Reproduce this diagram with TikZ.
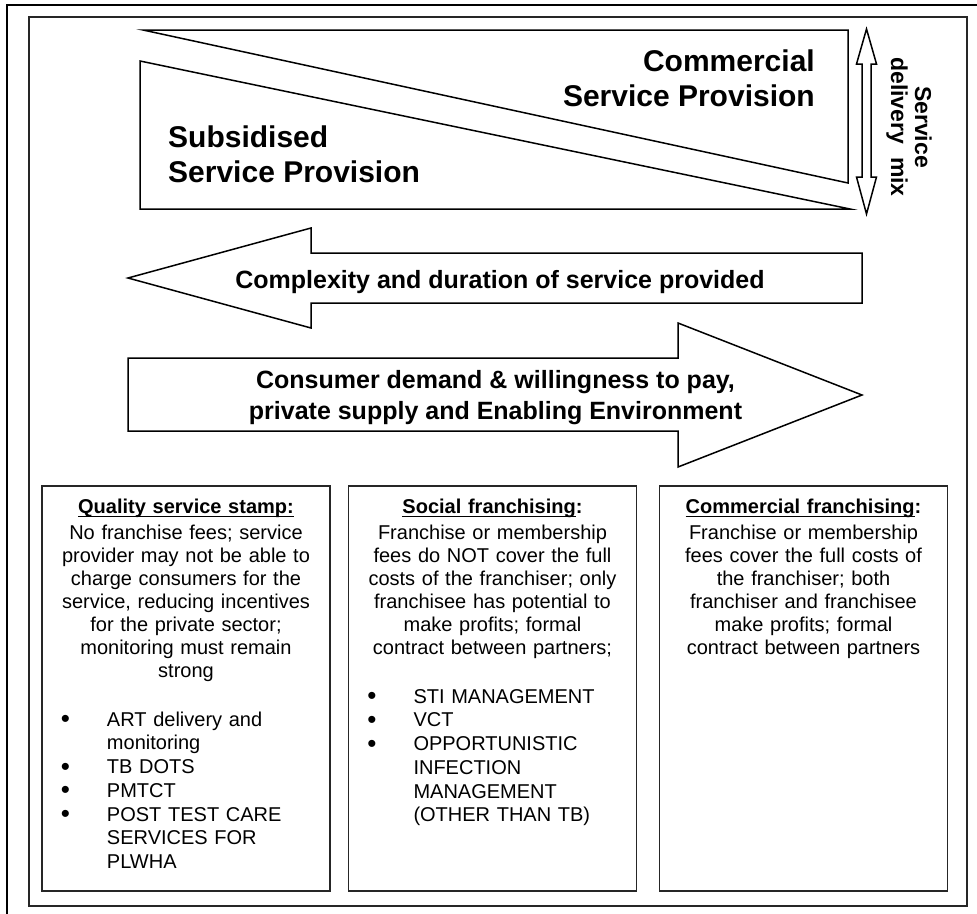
\documentclass[tikz,border=0pt]{standalone}
\usepackage{fontspec}
\setmainfont{Liberation Sans}
% heavy underline for the panel headings
\newsavebox\headbox
\newcommand\headrule[1]{\sbox\headbox{#1}\leavevmode
  \rlap{\rule[-3.6pt]{\wd\headbox}{1.6pt}}\usebox\headbox}
\newcommand\listdot{\raisebox{-1.5pt}{\fontsize{26}{26}\selectfont\textbullet}}
\newenvironment{servicelist}{%
  \par\vspace{24.5pt}\raggedright\fontsize{20}{23.8}\selectfont
  \begin{list}{\listdot}{%
    \setlength\leftmargin{62pt}\setlength\labelwidth{20pt}%
    \setlength\labelsep{37pt}\setlength\itemsep{0pt}%
    \setlength\parsep{0pt}\setlength\topsep{0pt}\setlength\partopsep{0pt}}}%
  {\end{list}}
\begin{document}
\begin{tikzpicture}[x=1pt,y=-1pt,
  frameline/.style={line width=1.8pt, draw=black},
  shapeline/.style={line width=1.5pt, draw=black, line join=miter},
  biglabel/.style={inner sep=0pt, font=\bfseries\fontsize{30}{35}\selectfont},
  arrowlabel/.style={inner sep=0pt, font=\bfseries\fontsize{25}{31}\selectfont},
  panel/.style={draw=black!85, line width=1.6pt, minimum width=288pt,
    minimum height=405pt, inner sep=0pt},
  paneltext/.style={inner sep=0pt, text width=282pt, anchor=north,
    font=\fontsize{20}{23}\selectfont},
]
\useasboundingbox (0,0) rectangle (977,913);
\clip (0,0) rectangle (977,913);

% page border and inner frame
\draw[frameline] (7,5) rectangle (1010,1000);
\draw[frameline, draw=black!85] (29,17) rectangle (967,906);

% service provision wedges
\draw[shapeline] (143,30) -- (848,30) -- (848,183) -- cycle;
\draw[shapeline] (140,61) -- (140,209) -- (850,209) -- cycle;
\node[biglabel, anchor=north east, align=right] (commercial) at (815,50)
  {Commercial\\Service Provision};
\node[biglabel, anchor=north west, align=left] (subsidised) at (168,126)
  {Subsidised\\Service Provision};

% service delivery mix double arrow
\draw[shapeline] (866.5,29) -- (876.5,64) -- (871,64) -- (871,177) -- (876.5,177)
  -- (866.5,214) -- (856.5,177) -- (862,177) -- (862,64) -- (856.5,64) -- cycle;
\node[rotate=-90, inner sep=0pt, align=center,
  font=\bfseries\fontsize{23}{24}\selectfont] (mix) at (909,127)
  {Service\\delivery\ \ mix};

% block arrows
\draw[shapeline] (128,278) -- (311,228) -- (311,253) -- (862,253) -- (862,303)
  -- (311,303) -- (311,328) -- cycle;
\node[arrowlabel, anchor=base] (complexity) at (500,288)
  {Complexity and duration of service provided};

\draw[shapeline] (128,358) -- (678,358) -- (678,323) -- (862,395) -- (678,467)
  -- (678,431) -- (128,431) -- cycle;
\node[arrowlabel, anchor=north, align=center] (demand) at (495.5,370)
  {Consumer demand \& willingness to pay,\\private supply and Enabling Environment};

% franchising panels
\node[panel] (stamp) at (186,688.5) {};
\node[panel] (social) at (492.5,688.5) {};
\node[panel] (commfr) at (803.5,688.5) {};

\node[paneltext] (stamptext) at (186,499) {\centering
  {\bfseries\headrule{Quality service stamp:}}\\[3pt]
  No franchise fees; service\\
  provider may not be able to\\
  charge consumers for the\\
  service, reducing incentives\\
  for the private sector;\\
  monitoring must remain\\
  strong
  \begin{servicelist}
  \item ART delivery and\\ monitoring
  \item TB DOTS
  \item PMTCT
  \item POST TEST CARE\\ SERVICES FOR\\ PLWHA
  \end{servicelist}};

\node[paneltext] (socialtext) at (492.5,499) {\centering
  {\bfseries\headrule{Social franchising}:}\\[3pt]
  Franchise or membership\\
  fees do NOT cover the full\\
  costs of the franchiser; only\\
  franchisee has potential to\\
  make profits; formal\\
  contract between partners;
  \begin{servicelist}
  \item STI MANAGEMENT
  \item VCT
  \item OPPORTUNISTIC\\ INFECTION\\ MANAGEMENT\\ (OTHER THAN TB)
  \end{servicelist}};

\node[paneltext] (commfrtext) at (803.5,499) {\centering
  {\bfseries\headrule{Commercial franchising}:}\\[3pt]
  Franchise or membership\\
  fees cover the full costs of\\
  the franchiser; both\\
  franchiser and franchisee\\
  make profits; formal\\
  contract between partners\par};
\end{tikzpicture}
\end{document}
